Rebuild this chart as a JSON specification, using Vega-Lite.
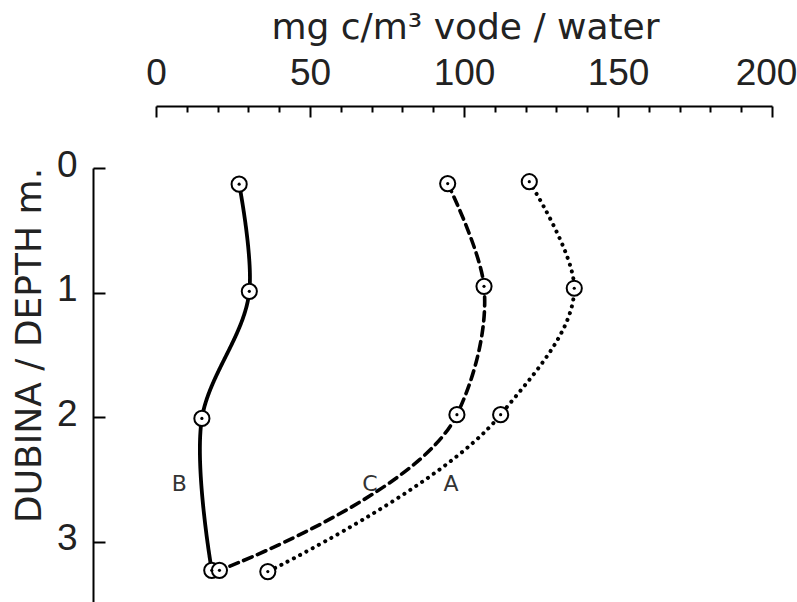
{
  "$schema": "https://vega.github.io/schema/vega-lite/v6.json",
  "width": 616,
  "height": 436,
  "autosize": "none",
  "padding": {"left": 156, "top": 168, "right": 25, "bottom": 0},
  "background": "white",
  "config": {"view": {"stroke": null}},
  "datasets": {
    "profiles": [
      {"series": "B", "conc": 27.0, "depth": 0.13},
      {"series": "B", "conc": 30.3, "depth": 0.99},
      {"series": "B", "conc": 14.9, "depth": 2.01},
      {"series": "B", "conc": 18.1, "depth": 3.23},
      {"series": "C", "conc": 94.7, "depth": 0.125},
      {"series": "C", "conc": 106.5, "depth": 0.95},
      {"series": "C", "conc": 97.7, "depth": 1.98},
      {"series": "C", "conc": 20.6, "depth": 3.23},
      {"series": "A", "conc": 121.2, "depth": 0.11},
      {"series": "A", "conc": 135.8, "depth": 0.965},
      {"series": "A", "conc": 111.9, "depth": 1.98},
      {"series": "A", "conc": 36.3, "depth": 3.24}
    ],
    "labels": [
      {"series": "B", "conc": 7.6, "depth": 2.54},
      {"series": "C", "conc": 69.5, "depth": 2.54},
      {"series": "A", "conc": 95.8, "depth": 2.54}
    ]
  },
  "resolve": {"axis": {"x": "independent", "y": "independent"}},
  "layer": [
    {
      "data": {"name": "profiles"},
      "mark": {"type": "line", "interpolate": "catmull-rom", "tension": 1, "color": "black", "strokeCap": "round"},
      "encoding": {
        "x": {
          "field": "conc", "type": "quantitative",
          "scale": {"domain": [0, 200], "nice": false, "zero": false},
          "axis": {
            "orient": "top", "offset": 62,
            "values": [0, 50, 100, 150, 200],
            "format": "d",
            "tickSize": -11,
            "labelOffset": {"condition": {"test": "datum.value === 200", "value": -6}, "value": 0},
            "labelPadding": 25,
            "grid": false,
            "domainColor": "black", "domainWidth": 2,
            "tickColor": "black", "tickWidth": 2,
            "labelFont": "Liberation Sans", "labelFontSize": 37, "labelColor": "#222",
            "labelFlush": false, "labelOverlap": false, "labelBound": false,
            "title": "mg c/m³ vode / water",
            "titleFont": "DejaVu Sans", "titleFontSize": 36, "titleFontWeight": "normal", "titleColor": "#222",
            "titleX": 309, "titleY": -68, "titleAlign": "center", "titleBaseline": "alphabetic"
          }
        },
        "y": {
          "field": "depth", "type": "quantitative",
          "scale": {"domain": [0, 3.5], "reverse": true, "nice": false, "zero": false},
          "axis": {
            "offset": 63,
            "values": [0, 1, 2, 3],
            "format": "d",
            "tickSize": -12,
            "labelPadding": 28,
            "labelOffset": -3,
            "grid": false,
            "domainColor": "black", "domainWidth": 2,
            "tickColor": "black", "tickWidth": 2,
            "labelFont": "Liberation Sans", "labelFontSize": 37, "labelColor": "#222",
            "labelFlush": false, "labelOverlap": false, "labelBound": false, "labelBaseline": "middle",
            "title": "DUBINA / DEPTH m.",
            "titleFont": "DejaVu Sans", "titleFontSize": 36, "titleFontWeight": "normal", "titleColor": "#222",
            "titleX": -64, "titleY": 177, "titleAngle": -90, "titleAlign": "center", "titleBaseline": "middle"
          }
        },
        "strokeDash": {
          "field": "series", "type": "nominal",
          "scale": {"domain": ["A", "B", "C"], "range": [[0.1, 7], [1, 0], [9, 6]]},
          "legend": null
        },
        "strokeWidth": {
          "field": "series", "type": "nominal",
          "scale": {"domain": ["A", "B", "C"], "range": [4, 3.6, 3.6]},
          "legend": null
        },
        "order": {"field": "depth"}
      }
    },
    {
      "data": {"name": "profiles"},
      "mark": {"type": "point", "shape": "circle", "filled": false, "fill": "white", "fillOpacity": 1, "stroke": "black", "strokeWidth": 2, "size": 230, "opacity": 1},
      "encoding": {
        "x": {"field": "conc", "type": "quantitative", "axis": null},
        "y": {"field": "depth", "type": "quantitative", "axis": null}
      }
    },
    {
      "data": {"name": "profiles"},
      "mark": {"type": "circle", "color": "black", "size": 10, "opacity": 1},
      "encoding": {
        "x": {
          "field": "conc", "type": "quantitative",
          "axis": {
            "orient": "top", "offset": 62,
            "values": [10, 20, 30, 40, 60, 70, 80, 90, 110, 120, 130, 140, 160, 170, 180, 190],
            "tickSize": -6, "tickColor": "black", "tickWidth": 2,
            "labels": false, "domain": false, "grid": false, "title": null
          }
        },
        "y": {
          "field": "depth", "type": "quantitative",
          "axis": {
            "offset": 63,
            "values": [0.5, 1.5, 2.5],
            "tickSize": -6, "tickColor": "black", "tickWidth": 2,
            "labels": false, "domain": false, "grid": false, "title": null
          }
        }
      }
    },
    {
      "data": {"name": "labels"},
      "mark": {"type": "text", "font": "DejaVu Sans", "fontSize": 22, "color": "#333", "align": "center", "baseline": "middle"},
      "encoding": {
        "x": {"field": "conc", "type": "quantitative", "axis": null},
        "y": {"field": "depth", "type": "quantitative", "axis": null},
        "text": {"field": "series"}
      }
    }
  ]
}
